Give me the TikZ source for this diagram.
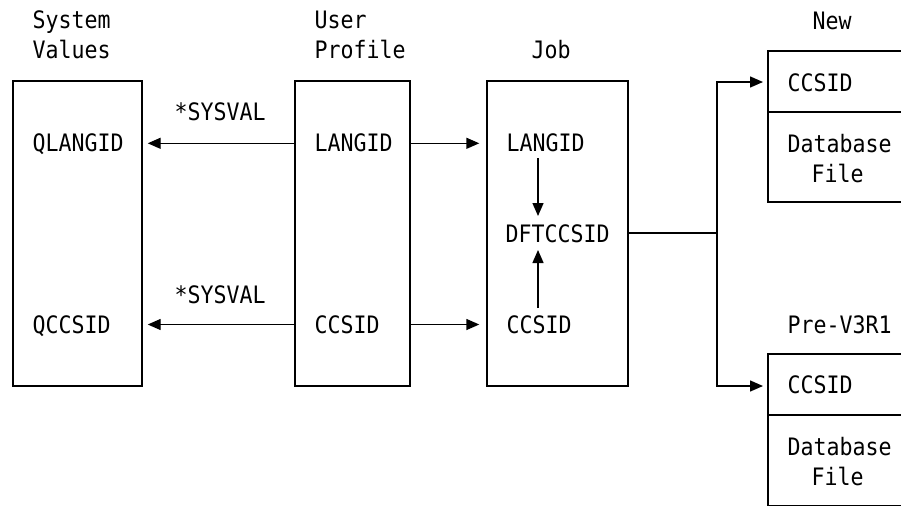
\documentclass[tikz,border=0pt]{standalone}
\usepackage{fontspec}
\newfontfamily\diagfont[FakeStretch=0.9]{DejaVu Sans Mono}
\usetikzlibrary{arrows.meta}
\begin{document}
\begin{tikzpicture}[x=1pt,y=-1pt,line width=1.4pt,
  txt/.style={anchor=base west,inner sep=0pt,font=\diagfont\fontsize{24}{28}\selectfont},
  box/.style={draw,rectangle,inner sep=0pt,minimum height=305pt},
  arr/.style={-{Triangle[length=13pt,width=11pt]}}]
\useasboundingbox (0,0) rectangle (901,506);
% boxes
\node[box,minimum width=129pt] (sv) at (77.5,233.5) {};
\node[box,minimum width=115pt] (up) at (352.5,233.5) {};
\node[box,minimum width=141pt] (job) at (557.5,233.5) {};
\draw (901,51) -- (768,51) -- (768,202) -- (901,202);
\draw (768,112) -- (901,112);
\draw (901,354) -- (768,354) -- (768,506);
\draw (768,415) -- (901,415);
\draw[line width=0.8pt] (768,505.6) -- (901,505.6);
\coordinate (newin) at (768,82);
\coordinate (prein) at (768,386);
% titles
\node[txt] (sys1) at (32,28) {System};
\node[txt] (sys2) at (32,58) {Values};
\node[txt] (up1) at (314,28) {User};
\node[txt] (up2) at (314,58) {Profile};
\node[txt] (jobt) at (531,58) {Job};
\node[txt] (newt) at (812,29) {New};
\node[txt] (pret) at (787,333) {Pre-V3R1};
% labels
\node[txt] (sv1) at (174,120) {*SYSVAL};
\node[txt] (sv2) at (174,303) {*SYSVAL};
\node[txt] (qlang) at (32,151) {QLANGID};
\node[txt] (qccs) at (32,333) {QCCSID};
\node[txt] (uplang) at (314,151) {LANGID};
\node[txt] (upccs) at (314,333) {CCSID};
\node[txt] (joblang) at (506,151) {LANGID};
\node[txt] (jobccs) at (506,333) {CCSID};
\node[txt] (dft) at (505,242.5) {DFTCCSID};
\node[txt] (newccs) at (787,91) {CCSID};
\node[txt] (newdb1) at (787,152) {Database};
\node[txt] (newdb2) at (811,182) {File};
\node[txt] (preccs) at (787,393) {CCSID};
\node[txt] (predb1) at (787,455) {Database};
\node[txt] (predb2) at (811,485) {File};
% connectors
\coordinate (r1) at (0,143.3);
\coordinate (r2) at (0,324.5);
\coordinate (vx) at (538,0);
\coordinate (split) at (717,233);
\draw[arr,shorten >=5pt] (up.west |- r1) -- (sv.east |- r1);
\draw[arr,shorten >=7pt] (up.east |- r1) -- (job.west |- r1);
\draw[arr,shorten >=5pt] (up.west |- r2) -- (sv.east |- r2);
\draw[arr,shorten >=7pt] (up.east |- r2) -- (job.west |- r2);
\draw[arr,shorten <=7pt,shorten >=26.5pt] (vx |- joblang.base) -- (vx |- dft.base);
\draw[arr,shorten <=25pt,shorten >=7.5pt] (vx |- jobccs.base) -- (vx |- dft.base);
\draw (job.east |- split) -- (split);
\draw[arr,shorten >=5pt] (split) |- (newin);
\draw[arr,shorten >=5pt] (split) |- (prein);
\end{tikzpicture}
\end{document}
